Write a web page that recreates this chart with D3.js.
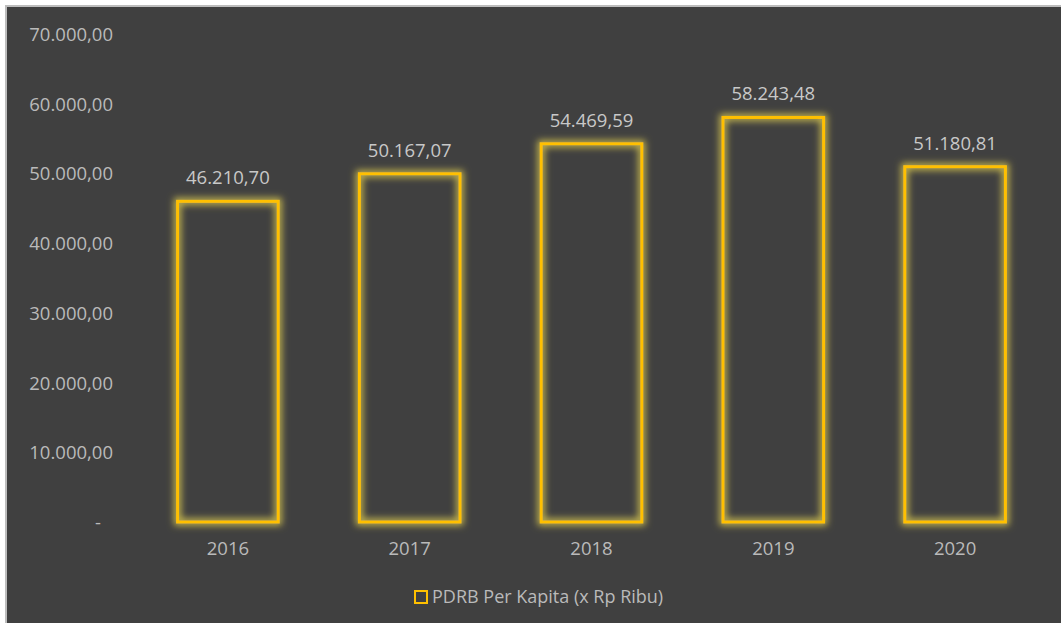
<!DOCTYPE html>
<html>
<head>
<meta charset="utf-8">
<script src="https://cdn.jsdelivr.net/npm/d3@7"></script>
<style>
  html, body { margin: 0; padding: 0; background: #ffffff; }
  svg { display: block; }
  text { font-family: "Open Sans", "Liberation Sans", sans-serif; }
</style>
</head>
<body>
<svg id="chart" width="1061" height="623"></svg>
<script>
// PDRB per kapita, 2016–2020
const years = ["2016", "2017", "2018", "2019", "2020"];
const values = [46210.70, 50167.07, 54469.59, 58243.48, 51180.81];
const yTicks = [0, 10000, 20000, 30000, 40000, 50000, 60000, 70000];
const seriesName = "PDRB Per Kapita (x Rp Ribu)";

const W = 1061, H = 623;
const svg = d3.select("#chart");

// Indonesian number format: "." thousands, "," decimals
const idLocale = d3.formatLocale({ decimal: ",", thousands: ".", grouping: [3], currency: ["Rp", ""] });
const fmt = idLocale.format(",.2f");

const defs = svg.append("defs");
const glow = defs.append("filter").attr("id", "glow")
  .attr("x", "-15%").attr("y", "-15%").attr("width", "130%").attr("height", "130%");
glow.append("feMorphology").attr("in", "SourceGraphic").attr("operator", "dilate").attr("radius", 1.5).attr("result", "thick");
glow.append("feGaussianBlur").attr("in", "thick").attr("stdDeviation", 3.5).attr("result", "blur");
glow.append("feColorMatrix").attr("in", "blur").attr("type", "matrix")
  .attr("values", "0 0 0 0 0.72  0 0 0 0 0.6  0 0 0 0 0.08  0 0 0 0.85 0")
  .attr("result", "halo");
const merge = glow.append("feMerge");
merge.append("feMergeNode").attr("in", "halo");
merge.append("feMergeNode").attr("in", "SourceGraphic");

// chart area with light frame on top/left
svg.append("rect").attr("x", 0).attr("y", 0).attr("width", W).attr("height", H).attr("fill", "#ffffff");
svg.append("rect").attr("x", 5).attr("y", 5).attr("width", W - 5).attr("height", H - 5).attr("fill", "#bdbdbd");
svg.append("rect").attr("x", 7).attr("y", 7).attr("width", W - 7).attr("height", H - 7).attr("fill", "#404040");

const x = d3.scaleBand().domain(years).range([137, 1046]).paddingInner(0.43).paddingOuter(0.215);
const y = d3.scaleLinear().domain([0, 70000]).range([522, 34]);

// y axis labels
const yAxis = svg.append("g").attr("transform", "translate(113,0)")
  .call(d3.axisLeft(y).tickValues(yTicks).tickSize(0).tickPadding(0)
    .tickFormat(d => d === 0 ? "-" : fmt(d)));
yAxis.select(".domain").remove();
yAxis.selectAll("text")
  .attr("fill", "#bababa").attr("font-size", "18.5px")
  .attr("dx", d => d === 0 ? "-12px" : 0)
  .attr("dy", "0.35em");

// x axis labels
const xAxis = svg.append("g").attr("transform", "translate(0,549)")
  .call(d3.axisBottom(x).tickSize(0).tickPadding(0));
xAxis.select(".domain").remove();
xAxis.selectAll("text").attr("fill", "#bababa").attr("font-size", "18.5px").attr("dy", "0.35em");

// outlined bars
svg.append("g").selectAll("rect").data(values).join("rect")
  .attr("x", (d, i) => x(years[i]) + 1.5)
  .attr("y", d => y(d) + 1.5)
  .attr("width", x.bandwidth() - 3)
  .attr("height", d => y(0) - y(d) - 1.5)
  .attr("fill", "none")
  .attr("stroke", "#ffc000")
  .attr("stroke-width", 3)
  .attr("filter", "url(#glow)");

// value labels
svg.append("g").selectAll("text").data(values).join("text")
  .attr("x", (d, i) => x(years[i]) + x.bandwidth() / 2)
  .attr("y", d => y(d) - 22)
  .attr("text-anchor", "middle")
  .attr("dy", "0.35em")
  .attr("fill", "#c8c8c8")
  .attr("font-size", "18.5px")
  .text(d => fmt(d));

// legend
const lg = svg.append("g").attr("transform", "translate(414,590)");
lg.append("rect").attr("x", 1).attr("y", 1).attr("width", 12).attr("height", 12)
  .attr("fill", "#404040").attr("stroke", "#ffc000").attr("stroke-width", 2);
lg.append("text").attr("x", 18).attr("y", 7).attr("dy", "0.35em")
  .attr("fill", "#bababa").attr("font-size", "18px").text(seriesName);
</script>
</body>
</html>
